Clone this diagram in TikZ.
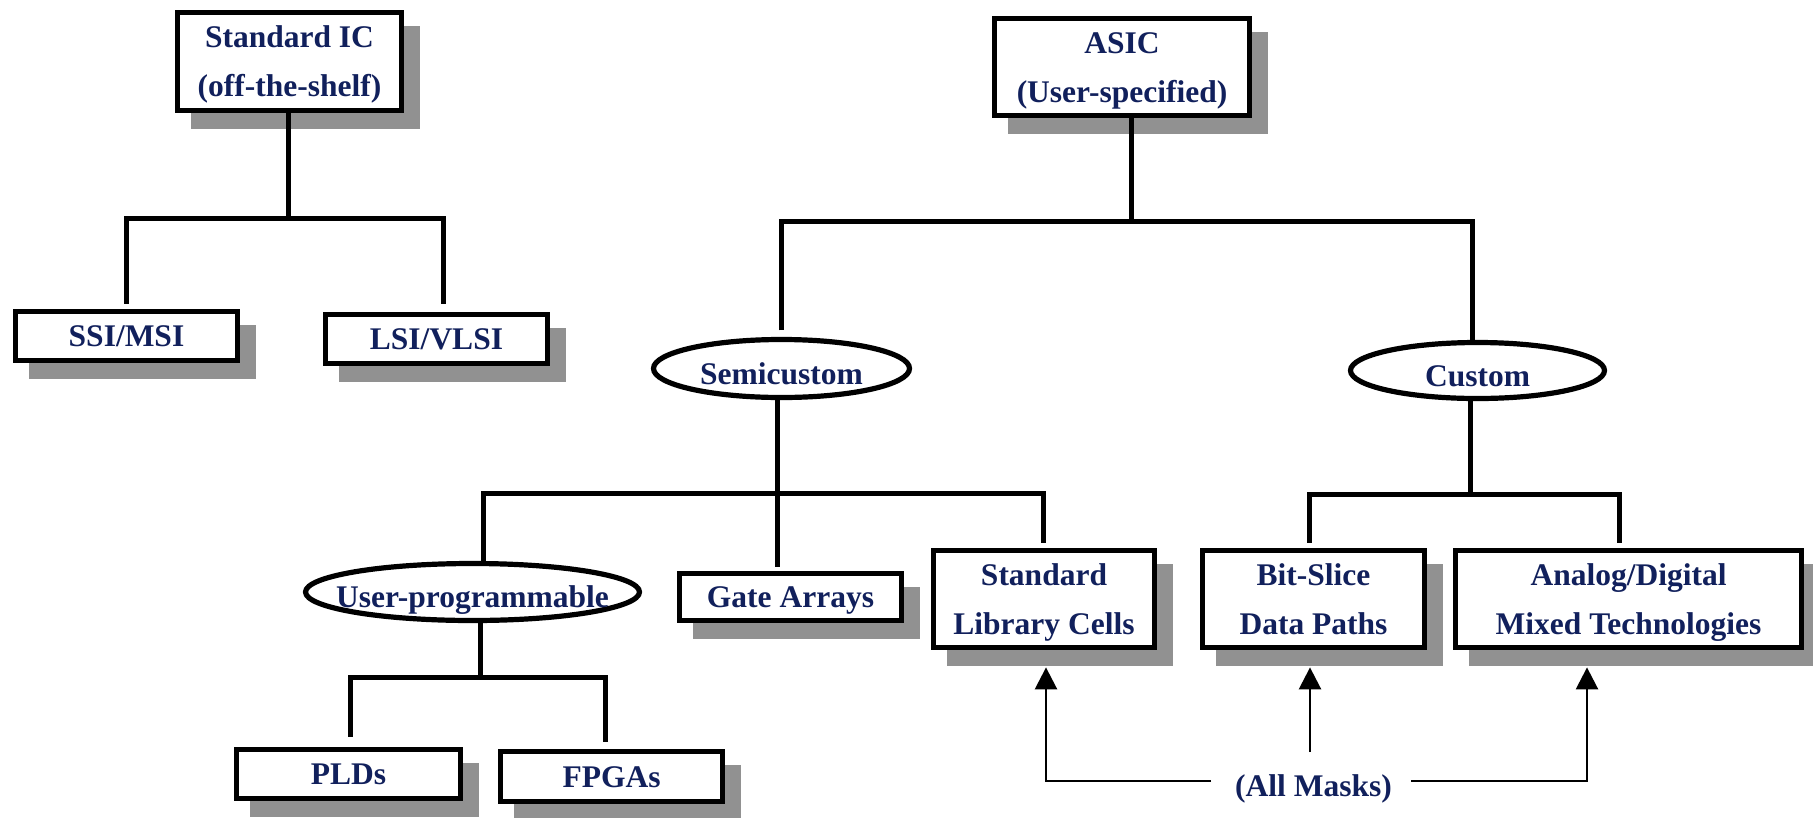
\documentclass[tikz,border=0pt]{standalone}
\usepackage{fontspec}
\setmainfont{Liberation Serif}
\usetikzlibrary{shapes.geometric,arrows.meta}
\definecolor{inkblue}{RGB}{17,32,92}
\definecolor{shade}{RGB}{145,145,145}
\begin{document}
\begin{tikzpicture}[x=1pt,y=-1pt,
  every node/.style={font=\fontsize{31.5pt}{49pt}\selectfont\bfseries, text=inkblue},
  card/.style={rectangle, draw=black, line width=5.2pt, fill=white, inner sep=0pt,
    text height=21pt, text depth=0pt, align=center,
    preaction={fill=shade, draw=shade, line width=5.2pt,
      transform canvas={xshift=16pt,yshift=-16pt}}},
  card2/.style={card, text height=70pt, text depth=0pt},
  oval/.style={ellipse, draw=black, line width=5.2pt, fill=white, inner sep=0pt,
    text height=31pt, text depth=0pt},
  tree/.style={line width=5pt, line join=miter},
  arr/.style={line width=2.6pt, -{Triangle[width=22pt,length=22pt]}}
]
\useasboundingbox (0,0) rectangle (1813,817);

% standard parts
\node[card2, minimum width=223.8pt, minimum height=97.8pt] (std) at (289.5,61.5) {Standard IC\\(off-the-shelf)};
\node[card, minimum width=221.8pt, minimum height=48.8pt] (ssi) at (126.5,336) {SSI/MSI};
\node[card, minimum width=221.8pt, minimum height=48.8pt] (lsi) at (436.5,339) {LSI/VLSI};

% application-specific parts
\node[card2, minimum width=254.8pt, minimum height=96.8pt] (asic) at (1122,67) {ASIC\\(User-specified)};
\node[oval, minimum width=256pt, minimum height=58pt] (semi) at (781.5,368.5) {\makebox[0pt]{Semicustom}};
\node[oval, minimum width=254pt, minimum height=56pt] (custom) at (1477.5,370.5) {\makebox[0pt]{Custom}};
\node[oval, minimum width=334pt, minimum height=57pt] (prog) at (472.5,592) {\makebox[0pt]{User-programmable}};
\node[card, minimum width=221.8pt, minimum height=46.8pt] (gate) at (790.5,597) {Gate Arrays};
\node[card2, minimum width=220.8pt, minimum height=96.8pt] (stdlib) at (1044,599) {Standard\\Library Cells};
\node[card2, minimum width=221.8pt, minimum height=96.8pt] (bitslice) at (1313.5,599) {Bit-Slice\\Data Paths};
\node[card2, minimum width=345.8pt, minimum height=96.8pt] (analog) at (1628.5,599) {Analog/Digital\\Mixed Technologies};
\node[card, minimum width=223.8pt, minimum height=48.8pt] (plds) at (348.5,774) {PLDs};
\node[card, minimum width=221.8pt, minimum height=49.8pt] (fpgas) at (611.5,776.5) {FPGAs};
\node[anchor=base] (masks) at (1313.5,796) {(All Masks)};

% levels of the horizontal bars
\coordinate (b1) at (0,218);
\coordinate (b2) at (0,221.5);
\coordinate (b3) at (0,493.5);
\coordinate (b4) at (0,494.5);
\coordinate (b5) at (0,677);

% stem positions
\coordinate (stdS) at ([xshift=-1.5pt]std.south);
\coordinate (lsiN) at ([xshift=6.5pt]lsi.north);
\coordinate (asicS) at ([xshift=9pt]asic.south);
\coordinate (customN) at ([xshift=-5.5pt]custom.north);
\coordinate (semiS) at ([xshift=-4.5pt]semi.south);
\coordinate (progN) at ([xshift=10.5pt]prog.north);
\coordinate (gateN) at ([xshift=-13.5pt]gate.north);
\coordinate (stdlibN) at ([xshift=-1pt]stdlib.north);
\coordinate (customS) at ([xshift=-7.5pt]custom.south);
\coordinate (bitN) at ([xshift=-4.5pt]bitslice.north);
\coordinate (anaN) at ([xshift=-9.5pt]analog.north);
\coordinate (progS) at ([xshift=7.5pt]prog.south);
\coordinate (pldsN) at ([xshift=1.5pt]plds.north);
\coordinate (fpgaN) at ([xshift=-6.5pt]fpgas.north);

% tree connectors
\draw[tree] (stdS) -- (stdS |- b1);
\draw[tree, shorten <=5.5pt, shorten >=8.5pt] (ssi.north) -- (ssi.north |- b1) -- (lsiN |- b1) -- (lsiN);

\draw[tree] (asicS) -- (asicS |- b2);
\draw[tree, shorten <=6.5pt] (semi.north) -- (semi.north |- b2) -- (customN |- b2) -- (customN);

\draw[tree] (semiS) -- (semiS |- b3);
\draw[tree, shorten >=5.5pt] (progN) -- (progN |- b3) -- (stdlibN |- b3) -- (stdlibN);
\draw[tree, shorten >=4.5pt] (gateN |- b3) -- (gateN);

\draw[tree] (customS) -- (customS |- b4);
\draw[tree, shorten <=5.5pt, shorten >=5.5pt] (bitN) -- (bitN |- b4) -- (anaN |- b4) -- (anaN);

\draw[tree] (progS) -- (progS |- b5);
\draw[tree, shorten <=10.5pt, shorten >=7.5pt] (pldsN) -- (pldsN |- b5) -- (fpgaN |- b5) -- (fpgaN);

% mask arrows
\coordinate (mL) at (1211,781);
\coordinate (mR) at (1411,781);
\coordinate (mT) at (1310,752);
\draw[arr, shorten >=17.4pt] (mL) -| ([xshift=2pt]stdlib.south);
\draw[arr, shorten >=17.4pt] (mT) -- (bitslice.south -| mT);
\draw[arr, shorten >=17.4pt] (mR) -| ([xshift=-41.5pt]analog.south);
\end{tikzpicture}
\end{document}
